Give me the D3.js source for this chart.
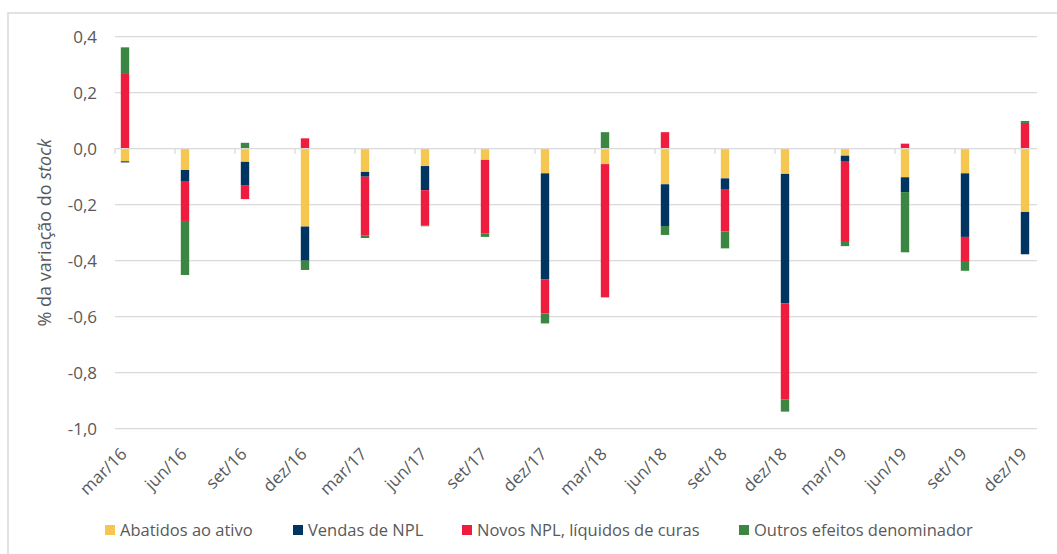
<!DOCTYPE html>
<html>
<head>
<meta charset="utf-8">
<script src="https://cdnjs.cloudflare.com/ajax/libs/d3/7.8.5/d3.min.js"></script>
<style>
  body { margin: 0; background: #fff; }
  text { font-family: "Open Sans", "Liberation Sans", sans-serif; fill: #595959; }
</style>
</head>
<body>
<div id="chart"></div>
<script>
// quarters shown on the axis
var quarters = ["mar/16", "jun/16", "set/16", "dez/16", "mar/17", "jun/17", "set/17", "dez/17",
                "mar/18", "jun/18", "set/18", "dez/18", "mar/19", "jun/19", "set/19", "dez/19"];

// series values (% of stock change)
var abatidos = [-0.045, -0.076, -0.047, -0.278, -0.083, -0.062, -0.040, -0.088,
                -0.055, -0.127, -0.106, -0.090, -0.025, -0.102, -0.088, -0.226];
var vendas   = [-0.004, -0.042, -0.085, -0.122, -0.017, -0.086, 0.000, -0.378,
                0.000, -0.149, -0.038, -0.462, -0.019, -0.053, -0.227, -0.151];
var novos    = [0.270, -0.140, -0.048, 0.037, -0.209, -0.127, -0.262, -0.122,
                -0.476, 0.059, -0.152, -0.343, -0.289, 0.018, -0.086, 0.092];
var outros   = [0.092, -0.193, 0.021, -0.033, -0.010, -0.002, -0.013, -0.036,
                0.059, -0.032, -0.060, -0.044, -0.015, -0.215, -0.035, 0.007];

var seriesNames = ["Abatidos ao ativo", "Vendas de NPL", "Novos NPL, líquidos de curas", "Outros efeitos denominador"];
var yTicks = [0.4, 0.2, 0.0, -0.2, -0.4, -0.6, -0.8, -1.0];

var colors = ["#F5C750", "#003461", "#EE1C3F", "#3B8642"];
var legendX = [105, 293, 462, 739];

var width = 1057, height = 554;
var months = quarters.length * 3 - 2; // mar/16 .. dez/19

var svg = d3.select("#chart").append("svg")
    .attr("width", width)
    .attr("height", height);

// chart border
svg.append("rect")
    .attr("x", 8).attr("y", 13)
    .attr("width", 1100).attr("height", 600)
    .attr("fill", "none")
    .attr("stroke", "#d9d9d9")
    .attr("stroke-width", 1.5);

var x = d3.scaleLinear().domain([0, months]).range([115, 1035]);
var y = d3.scaleLinear().domain([-1, 0.4]).range([428.7, 36.7]);

// build rows for stacking
var rows = quarters.map(function(q, i) {
    return { q: q, i: i, s0: abatidos[i], s1: vendas[i], s2: novos[i], s3: outros[i] };
});
var stack = d3.stack()
    .keys(["s0", "s1", "s2", "s3"])
    .offset(d3.stackOffsetDiverging);
var stacked = stack(rows);

// gridlines
svg.append("g").selectAll("line")
    .data(yTicks.filter(function(d) { return d !== 0; }))
    .enter().append("line")
    .attr("x1", 115).attr("x2", 1037)
    .attr("y1", function(d) { return y(d); })
    .attr("y2", function(d) { return y(d); })
    .attr("stroke", "#d9d9d9")
    .attr("stroke-width", 1.3);

// y tick labels
svg.append("g").selectAll("text")
    .data(yTicks)
    .enter().append("text")
    .attr("x", 97)
    .attr("y", function(d) { return y(d); })
    .attr("dy", "0.35em")
    .attr("text-anchor", "end")
    .style("font-size", "17px")
    .text(function(d) { return d3.format(".1f")(d).replace(".", ",").replace("−", "-"); });

// y title
var title = svg.append("text")
    .attr("transform", "translate(51," + ((y(0.4) + y(-1)) / 2) + ") rotate(-90)")
    .attr("text-anchor", "middle")
    .style("font-size", "18px");
title.append("tspan").text("% da variação do ");
title.append("tspan").style("font-style", "italic").text("stock");

// bars
var barW = 8.4;
svg.append("g").selectAll("g")
    .data(stacked)
    .enter().append("g")
    .attr("fill", function(d, i) { return colors[i]; })
    .selectAll("rect")
    .data(function(d) { return d; })
    .enter().append("rect")
    .attr("x", function(d) { return x(d.data.i * 3 + 0.5) - barW / 2; })
    .attr("width", barW)
    .attr("y", function(d) { return y(Math.max(d[0], d[1])); })
    .attr("height", function(d) { return Math.abs(y(d[0]) - y(d[1])); });

// zero axis with ticks
svg.append("line")
    .attr("x1", 115).attr("x2", 1037)
    .attr("y1", y(0)).attr("y2", y(0))
    .attr("stroke", "#d9d9d9")
    .attr("stroke-width", 1.3);
svg.append("g").selectAll("line")
    .data(quarters)
    .enter().append("line")
    .attr("x1", function(d, i) { return x(i * 3); })
    .attr("x2", function(d, i) { return x(i * 3); })
    .attr("y1", y(0)).attr("y2", y(0) + 5)
    .attr("stroke", "#d9d9d9")
    .attr("stroke-width", 1.3);

// x labels
svg.append("g").selectAll("text")
    .data(quarters)
    .enter().append("text")
    .attr("transform", function(d, i) {
        return "translate(" + (x(i * 3 + 0.5) + 3) + ",455) rotate(-45)";
    })
    .attr("text-anchor", "end")
    .style("font-size", "17px")
    .text(function(d) { return d; });

// legend
var legend = svg.append("g").selectAll("g")
    .data(seriesNames)
    .enter().append("g")
    .attr("transform", function(d, i) { return "translate(" + legendX[i] + ",525)"; });
legend.append("rect")
    .attr("width", 10).attr("height", 10)
    .attr("fill", function(d, i) { return colors[i]; });
legend.append("text")
    .attr("x", 15).attr("y", 5)
    .attr("dy", "0.35em")
    .style("font-size", "16.5px")
    .text(function(d) { return d; });
</script>
</body>
</html>
